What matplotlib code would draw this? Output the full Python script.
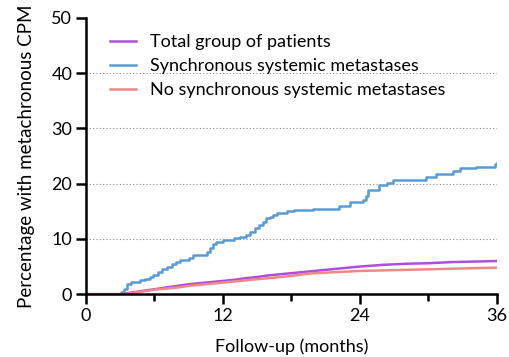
import matplotlib
matplotlib.use("Agg")
import matplotlib.pyplot as plt

plt.rcParams['font.family'] = ['Lato', 'DejaVu Sans']

# follow-up months / cumulative percentage
sync_t = [0, 3.1, 3.3, 3.6, 3.9, 4.7, 5.2, 5.6, 5.9, 6.3, 6.7, 7.1, 7.5, 7.9, 8.2, 9.0, 9.4,
          10.6, 10.9, 11.1, 11.4, 12.0, 13.0, 13.5, 14.0, 14.4, 14.8, 15.2, 15.5, 15.8, 16.1,
          16.4, 16.7, 17.6, 18.2, 19.9, 22.2, 23.1, 24.3, 24.5, 24.7, 25.7, 26.4, 26.9, 29.8,
          30.7, 32.2, 32.8, 34.2, 35.8, 36.0]
sync_y = [0, 0.4, 0.9, 1.8, 2.2, 2.5, 2.8, 3.1, 3.4, 4.0, 4.6, 5.0, 5.5, 5.9, 6.2, 6.5, 7.1,
          7.7, 8.3, 9.0, 9.5, 9.8, 10.1, 10.4, 10.7, 11.3, 11.9, 12.5, 13.1, 13.7, 14.0,
          14.3, 14.6, 15.0, 15.2, 15.5, 15.9, 16.7, 17.0, 17.8, 18.8, 19.7, 20.2, 20.7, 21.2,
          21.7, 22.2, 22.8, 23.1, 23.6, 23.8]

total_t = [0, 3.1, 4, 5, 6, 7, 8, 9, 10, 11, 12, 13, 14, 15, 16, 17, 18, 19, 20, 21, 22, 23,
           24, 26, 28, 30, 32, 34, 36]
total_y = [0, 0, 0.3, 0.6, 0.9, 1.2, 1.5, 1.8, 2.0, 2.2, 2.4, 2.6, 2.9, 3.1, 3.4, 3.6, 3.8,
           4.0, 4.2, 4.4, 4.6, 4.8, 5.0, 5.3, 5.5, 5.6, 5.8, 5.9, 6.0]

nosync_t = [0, 3.4, 4, 5, 6, 7, 8, 9, 10, 11, 12, 13, 14, 15, 16, 17, 18, 19, 20, 21, 22,
            24, 26, 28, 30, 32, 34, 36]
nosync_y = [0, 0, 0.2, 0.5, 0.8, 1.0, 1.2, 1.5, 1.7, 1.9, 2.1, 2.3, 2.5, 2.7, 2.9, 3.1, 3.3,
            3.6, 3.8, 3.9, 4.0, 4.2, 4.3, 4.4, 4.5, 4.6, 4.7, 4.8]

fig = plt.figure(figsize=(5.09, 3.57), dpi=100)
ax = fig.add_axes([0.169, 0.176, 0.807, 0.774])

ax.step(sync_t, sync_y, where='post', color='#5b9bd5', lw=1.8, label='Synchronous systemic metastases')
ax.plot(total_t, total_y, color='#ad4fdc', lw=1.8, label='Total group of patients')
ax.plot(nosync_t, nosync_y, color='#f08888', lw=1.8, label='No synchronous systemic metastases')

for v in [10, 20, 30, 40]:
    ax.axhline(v, color='#888888', lw=0.8, ls=(0, (1, 2)), zorder=0)

ax.set_xlim(0, 36)
ax.set_ylim(0, 50)
ax.set_xticks([0, 12, 24, 36])
ax.set_xticks([6, 18, 30], minor=True)
ax.set_yticks([0, 10, 20, 30, 40, 50])
ax.tick_params(which='both', direction='out', width=1.8, length=7, labelsize=13, pad=3)
ax.tick_params(which='minor', length=5)
for s in ['top', 'right']:
    ax.spines[s].set_visible(False)
for s in ['left', 'bottom']:
    ax.spines[s].set_linewidth(1.8)

ax.set_xlabel('Follow-up (months)', fontsize=13, labelpad=10)
ax.set_ylabel('Percentage with metachronous CPM', fontsize=13.5, labelpad=12)

h, l = ax.get_legend_handles_labels()
order = [1, 0, 2]
ax.legend([h[i] for i in order], [l[i] for i in order], loc='upper left',
          bbox_to_anchor=(0.02, 1.0), frameon=False, fontsize=13,
          handlelength=1.4, handletextpad=0.8, labelspacing=0.45)

fig.savefig('out.png', dpi=100)
